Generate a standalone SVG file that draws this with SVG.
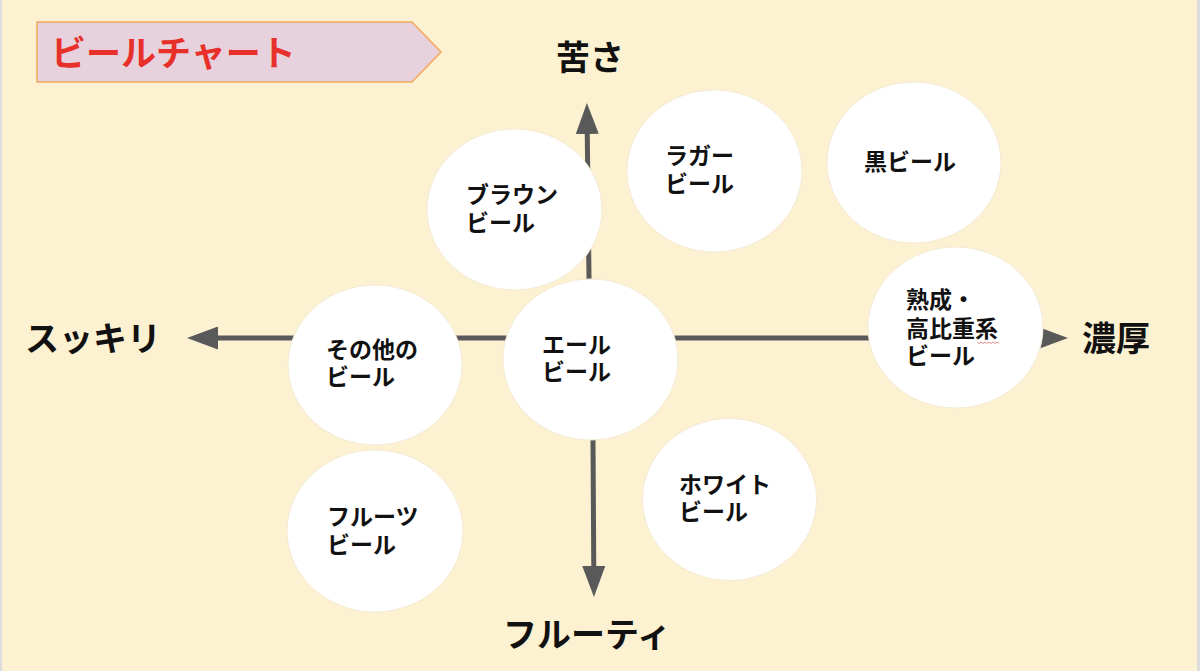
<svg xmlns="http://www.w3.org/2000/svg" width="1200" height="671" viewBox="0 0 1200 671">
<style>
.bg{fill:#FCF1D0}
.node ellipse{fill:#FFFFFF;stroke:#F4EBD6;stroke-width:1}
.lbl{font-family:"Liberation Sans","Noto Sans CJK JP",sans-serif;font-weight:bold;font-size:23px;fill:#111111}
.axis{font-family:"Noto Sans CJK JP","Noto Sans",sans-serif;font-weight:bold;font-size:34px;fill:#111111}
.ax{stroke:#595959;stroke-width:5;fill:none}
.title{font-family:"Noto Sans CJK JP","Noto Sans",sans-serif;font-weight:bold;font-size:35px;fill:#E8302A}
</style>
<defs>
<marker id="ah" viewBox="0 0 31 23" refX="5" refY="11.5" markerWidth="31" markerHeight="23" markerUnits="userSpaceOnUse" orient="auto-start-reverse">
<path d="M0,0 L31,11.5 L0,23 Z" fill="#595959"/>
</marker>
</defs>
<rect class="bg" x="0" y="0" width="1200" height="671"/>
<rect x="0" y="0" width="2" height="671" fill="#DCDCDC"/>
<rect x="1197" y="0" width="3" height="671" fill="#DCDCDC"/>

<g id="title">
<polygon points="37,22 412,22 441,52 412,82 37,82" fill="#E6D1DC" stroke="#F4A85C" stroke-width="1.5"/>
<text class="title" x="51" y="66">ビールチャート</text>
</g>

<g id="connectors">
<line class="ax" x1="213" y1="338" x2="1042" y2="338" marker-start="url(#ah)" marker-end="url(#ah)"/>
<line class="ax" x1="590" y1="360" x2="587.2" y2="129" marker-end="url(#ah)"/>
<line class="ax" x1="592.5" y1="360" x2="593.8" y2="571" marker-end="url(#ah)"/>
</g>

<g id="axis-labels">
<text class="axis" x="556" y="70">苦さ</text>
<text class="axis" x="25" y="351">スッキリ</text>
<text class="axis" x="1082" y="351">濃厚</text>
<text class="axis" x="503" y="647">フルーティ</text>
</g>

<g id="brown" class="node">
<ellipse cx="514.5" cy="209.5" rx="87.5" ry="80.5"/>
<text class="lbl" x="466" y="203">ブラウン</text>
<text class="lbl" x="466" y="231">ビール</text>
</g>
<g id="lager" class="node">
<ellipse cx="714.5" cy="171" rx="87.5" ry="81"/>
<text class="lbl" x="665" y="164">ラガー</text>
<text class="lbl" x="665" y="192">ビール</text>
</g>
<g id="black" class="node">
<ellipse cx="914" cy="162.5" rx="87" ry="80.5"/>
<text class="lbl" x="864" y="170">黒ビール</text>
</g>
<g id="aged" class="node">
<ellipse cx="955.5" cy="327.5" rx="87.5" ry="80.5"/>
<text class="lbl" x="906" y="308">熟成・</text>
<text class="lbl" x="906" y="337">高比重系</text>
<text class="lbl" x="906" y="364">ビール</text>
<path d="M977,342 l2,1.5 l2,-1.5 l2,1.5 l2,-1.5 l2,1.5 l2,-1.5 l2,1.5 l2,-1.5 l2,1.5 l2,-1.5 l2,1.5" fill="none" stroke="#E07070" stroke-width="0.8"/>
</g>
<g id="other" class="node">
<ellipse cx="375" cy="365" rx="87" ry="80"/>
<text class="lbl" x="326" y="358">その他の</text>
<text class="lbl" x="326" y="385">ビール</text>
</g>
<g id="ale" class="node">
<ellipse cx="590.5" cy="359.5" rx="87.5" ry="80.5"/>
<text class="lbl" x="542" y="353">エール</text>
<text class="lbl" x="542" y="380">ビール</text>
</g>
<g id="fruit" class="node">
<ellipse cx="375" cy="531" rx="88" ry="81"/>
<text class="lbl" x="327" y="525">フルーツ</text>
<text class="lbl" x="327" y="553">ビール</text>
</g>
<g id="white" class="node">
<ellipse cx="729.5" cy="499.5" rx="87" ry="81"/>
<text class="lbl" x="679" y="493">ホワイト</text>
<text class="lbl" x="679" y="520">ビール</text>
</g>
</svg>
